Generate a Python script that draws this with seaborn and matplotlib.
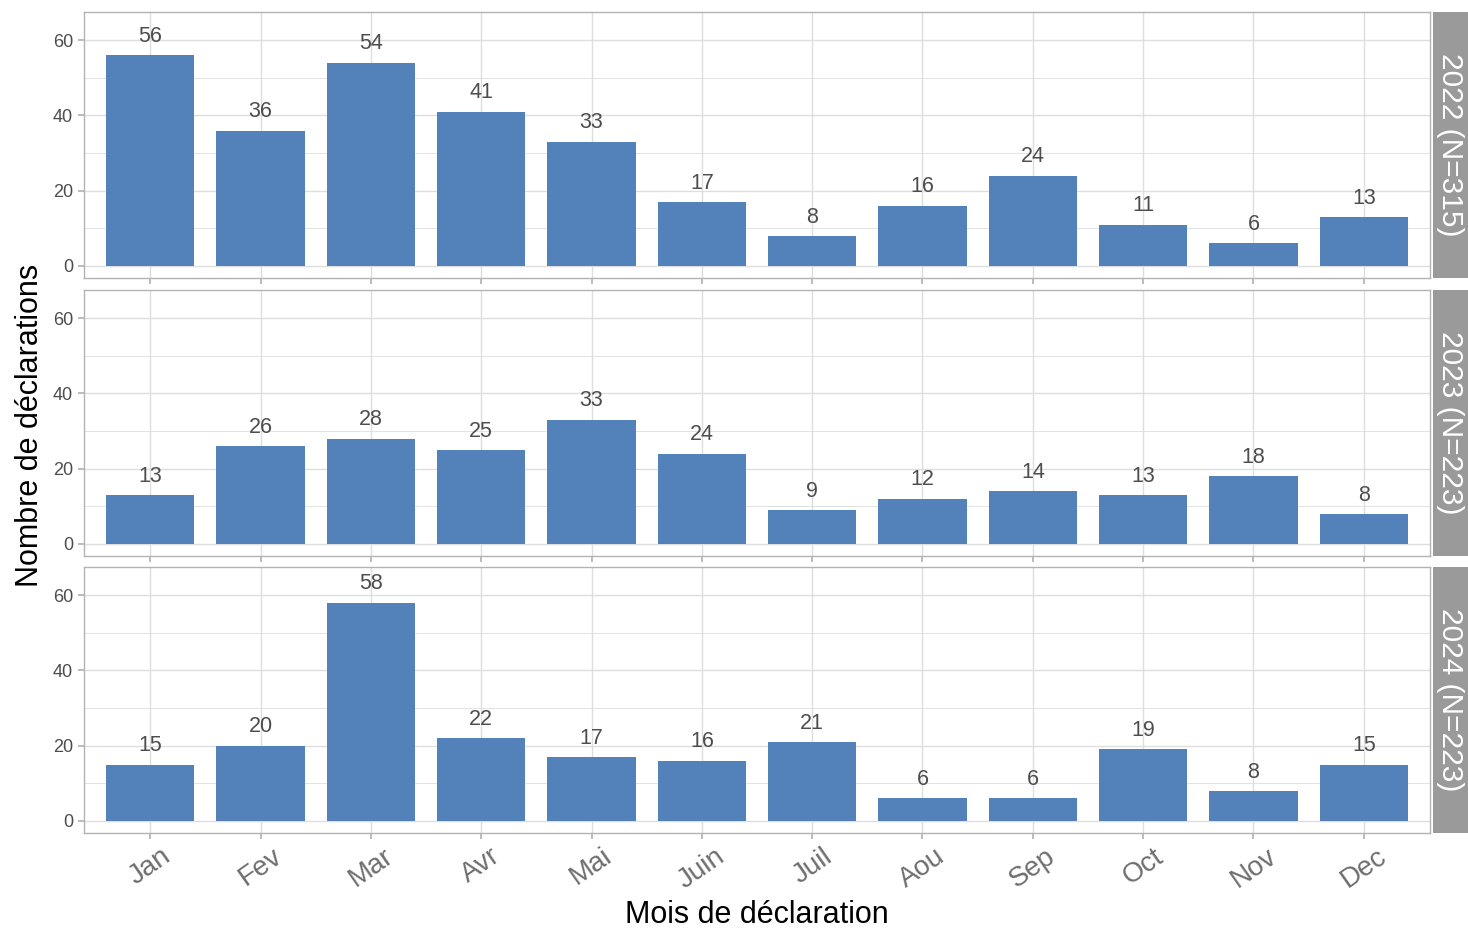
import numpy as np
import pandas as pd
import matplotlib.pyplot as plt
import seaborn as sns

months = ["Jan", "Fev", "Mar", "Avr", "Mai", "Juin", "Juil", "Aou", "Sep", "Oct", "Nov", "Dec"]
years = ["2022", "2023", "2024"]
counts_2022 = [56, 36, 54, 41, 33, 17, 8, 16, 24, 11, 6, 13]
counts_2023 = [13, 26, 28, 25, 33, 24, 9, 12, 14, 13, 18, 8]
counts_2024 = [15, 20, 58, 22, 17, 16, 21, 6, 6, 19, 8, 15]

df = pd.DataFrame({
    "mois": months * 3,
    "annee": np.repeat(years, 12),
    "n": counts_2022 + counts_2023 + counts_2024,
})

sns.set_theme(style="white")
plt.rcParams["font.family"] = ["Liberation Sans", "DejaVu Sans"]

bar_color = "#5381BA"
grid_color = "#DEDEDE"
frame_color = "#B3B3B3"
strip_color = "#9A9A9A"

fig = plt.figure(figsize=(14.68, 9.30), dpi=100)
W, H = 1468, 930
left, right = 84, 1430
panel_tops = [12, 290, 567]
panel_h = 266

for i, (yr, top) in enumerate(zip(years, panel_tops)):
    ax = fig.add_axes([left / W, (H - top - panel_h) / H, (right - left) / W, panel_h / H])
    sub = df[df["annee"] == yr]
    sns.barplot(data=sub, x="mois", y="n", order=months, color=bar_color,
                saturation=1, width=0.8, linewidth=0, ax=ax, zorder=3)
    ax.set_xlim(-0.6, 11.6)
    ax.set_ylim(-3.2, 67.5)
    ax.set_yticks([0, 20, 40, 60])
    ax.set_yticks([10, 30, 50], minor=True)
    ax.set_xticks(range(12))
    ax.grid(True, which="major", color=grid_color, linewidth=1.0, zorder=0)
    ax.grid(True, which="minor", axis="y", color=grid_color, linewidth=0.6, zorder=0)
    ax.set_axisbelow(True)
    for s in ax.spines.values():
        s.set_color(frame_color)
        s.set_linewidth(1.0)
    ax.tick_params(axis="y", which="major", length=4, color=frame_color, labelsize=13,
                   labelcolor="#4D4D4D", pad=4, left=True)
    ax.tick_params(axis="y", which="minor", length=0)
    ax.tick_params(axis="x", length=4, color=frame_color, bottom=True)
    ax.set_xlabel("")
    ax.set_ylabel("")
    for c in ax.containers:
        ax.bar_label(c, labels=[str(v) for v in sub["n"]], padding=6,
                     fontsize=15.5, color="#4D4D4D")
    if i < 2:
        ax.set_xticklabels([])
    else:
        ax.set_xticklabels(months, rotation=35, ha="center", va="top",
                           fontsize=20, color="#6E6E6E")
    total = sum(sub["n"])
    sax = fig.add_axes([1433 / W, (H - top - panel_h) / H, 35 / W, panel_h / H])
    sax.set_facecolor(strip_color)
    sax.set_xticks([])
    sax.set_yticks([])
    for s in sax.spines.values():
        s.set_visible(False)
    sax.text(0.5, 0.5, f"{yr} (N={total})", rotation=-90, ha="center", va="center",
             color="white", fontsize=21.5, transform=sax.transAxes)

fig.text(30 / W, 1 - 425 / H, "Nombre de déclarations", rotation=90, ha="center",
         va="center", fontsize=22, color="black")
fig.text(757 / W, 1 - 915 / H, "Mois de déclaration", ha="center", va="center",
         fontsize=22, color="black")

fig.savefig("out.png", dpi=100)
